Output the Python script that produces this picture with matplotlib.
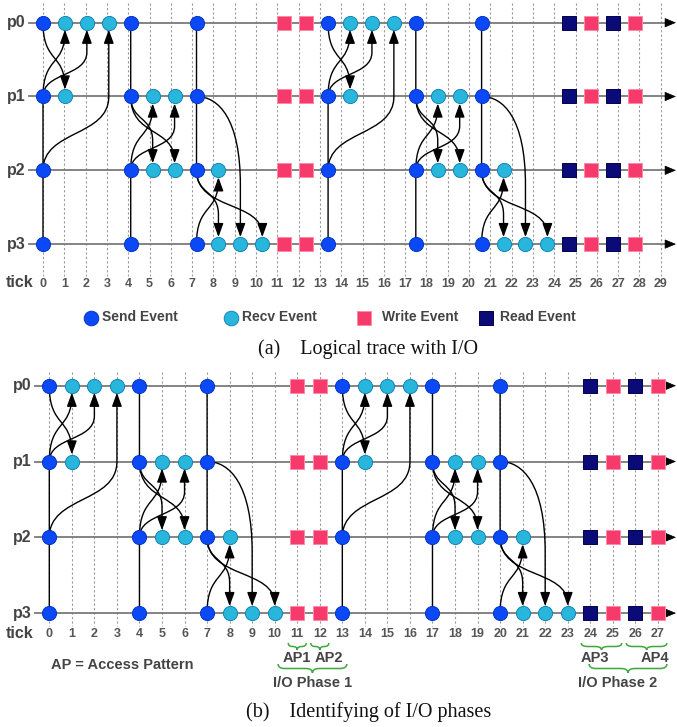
import numpy as np
import matplotlib
matplotlib.use("Agg")
import matplotlib.pyplot as plt
from matplotlib.path import Path
from matplotlib.patches import FancyArrowPatch, PathPatch
from matplotlib.lines import Line2D

# ---------------- data ----------------
processes = ["p0", "p1", "p2", "p3"]
send_ticks = [
    [0, 4, 7, 13, 17, 20],   # p0
    [0, 4, 7, 13, 17, 20],   # p1
    [0, 4, 7, 13, 17, 20],   # p2
    [0, 4, 7, 13, 17, 20],   # p3
]
recv_ticks = [
    [1, 2, 3, 14, 15, 16],   # p0
    [1, 5, 6, 14, 18, 19],   # p1
    [5, 6, 8, 18, 19, 21],   # p2
    [8, 9, 10, 21, 22, 23],  # p3
]
write_ticks = [11, 12, 25, 27]   # every process
read_ticks = [24, 26]            # every process

# messages: (src process, src tick, dst process, dst tick)
messages = [
    (0, 0, 1, 1), (1, 0, 0, 1), (2, 0, 0, 2), (3, 0, 0, 3),
    (0, 4, 2, 5), (1, 4, 2, 6), (2, 4, 1, 5), (3, 4, 1, 6),
    (0, 7, 3, 8), (1, 7, 3, 9), (2, 7, 3, 10), (3, 7, 2, 8),
    (0, 13, 1, 14), (1, 13, 0, 14), (2, 13, 0, 15), (3, 13, 0, 16),
    (0, 17, 2, 18), (1, 17, 2, 19), (2, 17, 1, 18), (3, 17, 1, 19),
    (0, 20, 3, 21), (1, 20, 3, 22), (2, 20, 3, 23), (3, 20, 2, 21),
]
# curve style of each message (style only)
message_shapes = ["s", "s", "s", "s", "s", "s", "s", "s", "late", "arc", "s", "s",
                  "s", "s", "s", "s", "s", "s", "s", "s", "late", "arc", "s", "s"]

tick_labels_a = list(range(30))
tick_labels_b = list(range(28))

legend_labels = ["Send Event", "Recv Event", "Write Event", "Read Event"]
captions = ["(a)    Logical trace with I/O", "(b)    Identifying of I/O phases"]

ap_names = ["AP1", "AP2", "AP3", "AP4"]
ap_spans = [(11, 11), (12, 12), (24, 25), (26, 27)]
phase_names = ["I/O Phase 1", "I/O Phase 2"]
phase_spans = [(11, 12), (24, 27)]
ap_note = "AP = Access Pattern"

# ---------------- style ----------------
W, H, DPI = 677, 727, 100
SEND, SEND_E = "#0b48f6", "#0636c4"
RECV, RECV_E = "#28b6dc", "#1585b5"
WRITE, WRITE_E = "#f63a6b", "#ff8aa5"
READ, READ_E = "#0b0b78", "#000050"
TXT = "#444444"
GREEN = "#3ea83e"
SANS = ["Liberation Sans", "DejaVu Sans"]
SERIF = ["Liberation Serif", "DejaVu Serif"]
ap_label_shift = [0.0, 0.4, -0.3, 0.37]        # label offsets (ticks)
phase_pads = [(-0.85, 1.2), (-0.05, 0.4)]       # brace padding (ticks)
phase_label_shift = [0.2, -0.3]

# panel geometry in pixels
PA = dict(x0=43.0, dx=21.93, y0=22.7, dy=73.8, top=0, bottom=360,
          label_dx=21.3, label_y=284, plabel_x=16, line_x=29,
          dash_top=3, dash_bot=276)
PB = dict(x0=49.3, dx=22.54, y0=385.7, dy=75.8, top=360, bottom=727,
          label_dx=22.54, label_y=634, plabel_x=22, line_x=35,
          dash_top=372, dash_bot=626)

fig = plt.figure(figsize=(W / DPI, H / DPI), dpi=DPI)


def fx(px):
    return px / W


def fy(py):
    return 1 - py / H


def make_axes(g):
    ax = fig.add_axes([0, 1 - g["bottom"] / H, 1, (g["bottom"] - g["top"]) / H])
    ax.set_xlim(-g["x0"] / g["dx"], (W - g["x0"]) / g["dx"])
    ax.set_ylim((g["bottom"] - g["y0"]) / g["dy"], (g["top"] - g["y0"]) / g["dy"])
    ax.axis("off")
    return ax


def xd(g, px):
    return (px - g["x0"]) / g["dx"]


def yd(g, py):
    return (py - g["y0"]) / g["dy"]


def msg_path(x0, y0, x1, y1, shape, rad):
    sg = 1.0 if y1 > y0 else -1.0
    n = abs(y1 - y0)
    yend = y1 - sg * rad
    M, L, C = Path.MOVETO, Path.LINETO, Path.CURVE4
    if shape == "arc":
        verts = [(x0, y0), (x0 + 0.5 * (x1 - x0), y0), (x1, y0 + sg * 0.3),
                 (x1, y0 + sg * 1.2), (x1, yend)]
        codes = [M, C, C, C, L]
    elif n == 1:
        k = 0.55
        verts = [(x0, y0), (x0, y0 + sg * k), (x1, yend - sg * k * 0.9), (x1, yend)]
        codes = [M, C, C, C]
    else:
        if shape == "late":
            ya, h = y1 - sg * 1.0, 0.6
        else:
            ya, h = y0 + sg * 1.0, (0.6 if n == 2 else 1.0)
        yb = ya + sg * h
        k = 0.55 * h
        verts = [(x0, y0), (x0, ya), (x0, ya + sg * k), (x1, yb - sg * k),
                 (x1, yb), (x1, yend)]
        codes = [M, L, C, C, C, L]
    return Path(verts, codes)


def brace(ax, g, xa, xb, ytop_px, h_px, color):
    y0 = yd(g, ytop_px)
    hh = h_px / g["dy"]
    xm = (xa + xb) / 2
    r = min(0.3, (xb - xa) / 4)
    ym, yt = y0 + hh / 2, y0 + hh
    verts = [(xa, y0), (xa, ym), (xa + r, ym), (xm - r, ym), (xm, ym), (xm, yt),
             (xm, ym), (xm + r, ym), (xb - r, ym), (xb, ym), (xb, y0)]
    codes = [Path.MOVETO, Path.CURVE3, Path.CURVE3, Path.LINETO, Path.CURVE3,
             Path.CURVE3, Path.CURVE3, Path.CURVE3, Path.LINETO, Path.CURVE3,
             Path.CURVE3]
    ax.add_patch(PathPatch(Path(verts, codes), fill=False, edgecolor=color,
                           lw=1.1, zorder=3))


def draw_panel(g, tick_labels):
    ax = make_axes(g)
    lab_pos = np.array(tick_labels) * g["label_dx"] / g["dx"]
    # dashed tick guides
    for p in lab_pos:
        ax.plot([p, p], [yd(g, g["dash_top"]), yd(g, g["dash_bot"])],
                color="#9a9a9a", lw=0.8, ls=(0, (2, 2)), zorder=1)
    # tick labels
    for p, t in zip(lab_pos, tick_labels):
        ax.text(p, yd(g, g["label_y"]), str(t), ha="center", va="center",
                fontsize=9, fontweight="bold", color="#555555", family=SANS)
    ax.text(xd(g, 6), yd(g, g["label_y"] - 1), "tick", ha="left", va="center",
            fontsize=11.5, fontweight="bold", color=TXT, family=SANS)
    # process lines
    xs, xe = xd(g, g["line_x"]), xd(g, W - 1)
    for i, name in enumerate(processes):
        ax.plot([xs, xe - 0.3], [i, i], color="#7a7a7a", lw=1.3, zorder=2)
        ax.add_patch(FancyArrowPatch((xe - 0.5, i), (xe, i),
                                     arrowstyle="-|>,head_length=0.6,head_width=0.25",
                                     mutation_scale=12, color="black", lw=0.5,
                                     shrinkA=0, shrinkB=0, zorder=2))
        ax.text(xd(g, g["plabel_x"]), i, name, ha="center", va="center",
                fontsize=11.5, fontweight="bold", color=TXT, family=SANS)
    # messages
    rad = 7.0 / g["dy"]
    for (sp, st, dp, dt), shp in zip(messages, message_shapes):
        path = msg_path(st, sp, dt, dp, shp, rad)
        ax.add_patch(FancyArrowPatch(path=path,
                                     arrowstyle="-|>,head_length=0.55,head_width=0.2",
                                     mutation_scale=15, color="black", lw=1.0,
                                     zorder=3))
    # events
    for i in range(len(processes)):
        ax.plot(send_ticks[i], [i] * len(send_ticks[i]), "o", ms=10.2,
                mfc=SEND, mec=SEND_E, mew=0.7, zorder=5)
        ax.plot(recv_ticks[i], [i] * len(recv_ticks[i]), "o", ms=10.2,
                mfc=RECV, mec=RECV_E, mew=0.7, zorder=5)
        ax.plot(write_ticks, [i] * len(write_ticks), "s", ms=10,
                mfc=WRITE, mec=WRITE_E, mew=0.7, zorder=5)
        ax.plot(read_ticks, [i] * len(read_ticks), "s", ms=10,
                mfc=READ, mec=READ_E, mew=0.7, zorder=5)
    return ax


ax_a = draw_panel(PA, tick_labels_a)
ax_b = draw_panel(PB, tick_labels_b)

# legend of panel (a)
leg_style = [dict(marker="o", mfc=SEND, mec=SEND_E),
             dict(marker="o", mfc=RECV, mec=RECV_E),
             dict(marker="s", mfc=WRITE, mec=WRITE_E),
             dict(marker="s", mfc=READ, mec=READ_E)]
leg_mx = [91, 231, 364, 486]
leg_tx = [102, 242, 382, 500]
for lab, st, mx, tx in zip(legend_labels, leg_style, leg_mx, leg_tx):
    fig.add_artist(Line2D([fx(mx)], [fy(318)], transform=fig.transFigure,
                          ms=10.5, mew=0.7, ls="none", **st))
    fig.text(fx(tx), fy(317), lab, ha="left", va="center", fontsize=10,
             fontweight="bold", color=TXT, family=SANS)

# captions
fig.text(fx(368), fy(349), captions[0], ha="center", va="center",
         fontsize=14.5, color="#111111", family=SERIF)
fig.text(fx(369), fy(712), captions[1], ha="center", va="center",
         fontsize=14.5, color="#111111", family=SERIF)

# access patterns and phases (panel b)
for name, (a, b), sh in zip(ap_names, ap_spans, ap_label_shift):
    brace(ax_b, PB, a - 0.4, b + 0.4, 643, 7, GREEN)
    ax_b.text((a + b) / 2 + sh, yd(PB, 658), name, ha="center", va="center",
              fontsize=10.5, fontweight="bold", color=TXT, family=SANS)
for name, (a, b), (pa, pb), sh in zip(phase_names, phase_spans, phase_pads,
                                      phase_label_shift):
    brace(ax_b, PB, a + pa, b + pb, 664, 9, GREEN)
    ax_b.text((a + b) / 2 + sh, yd(PB, 683), name, ha="center", va="center",
              fontsize=10.5, fontweight="bold", color=TXT, family=SANS)
ax_b.text(xd(PB, 51), yd(PB, 665), ap_note, ha="left", va="center",
          fontsize=10.5, fontweight="bold", color=TXT, family=SANS)

fig.savefig("out.png", dpi=DPI)
